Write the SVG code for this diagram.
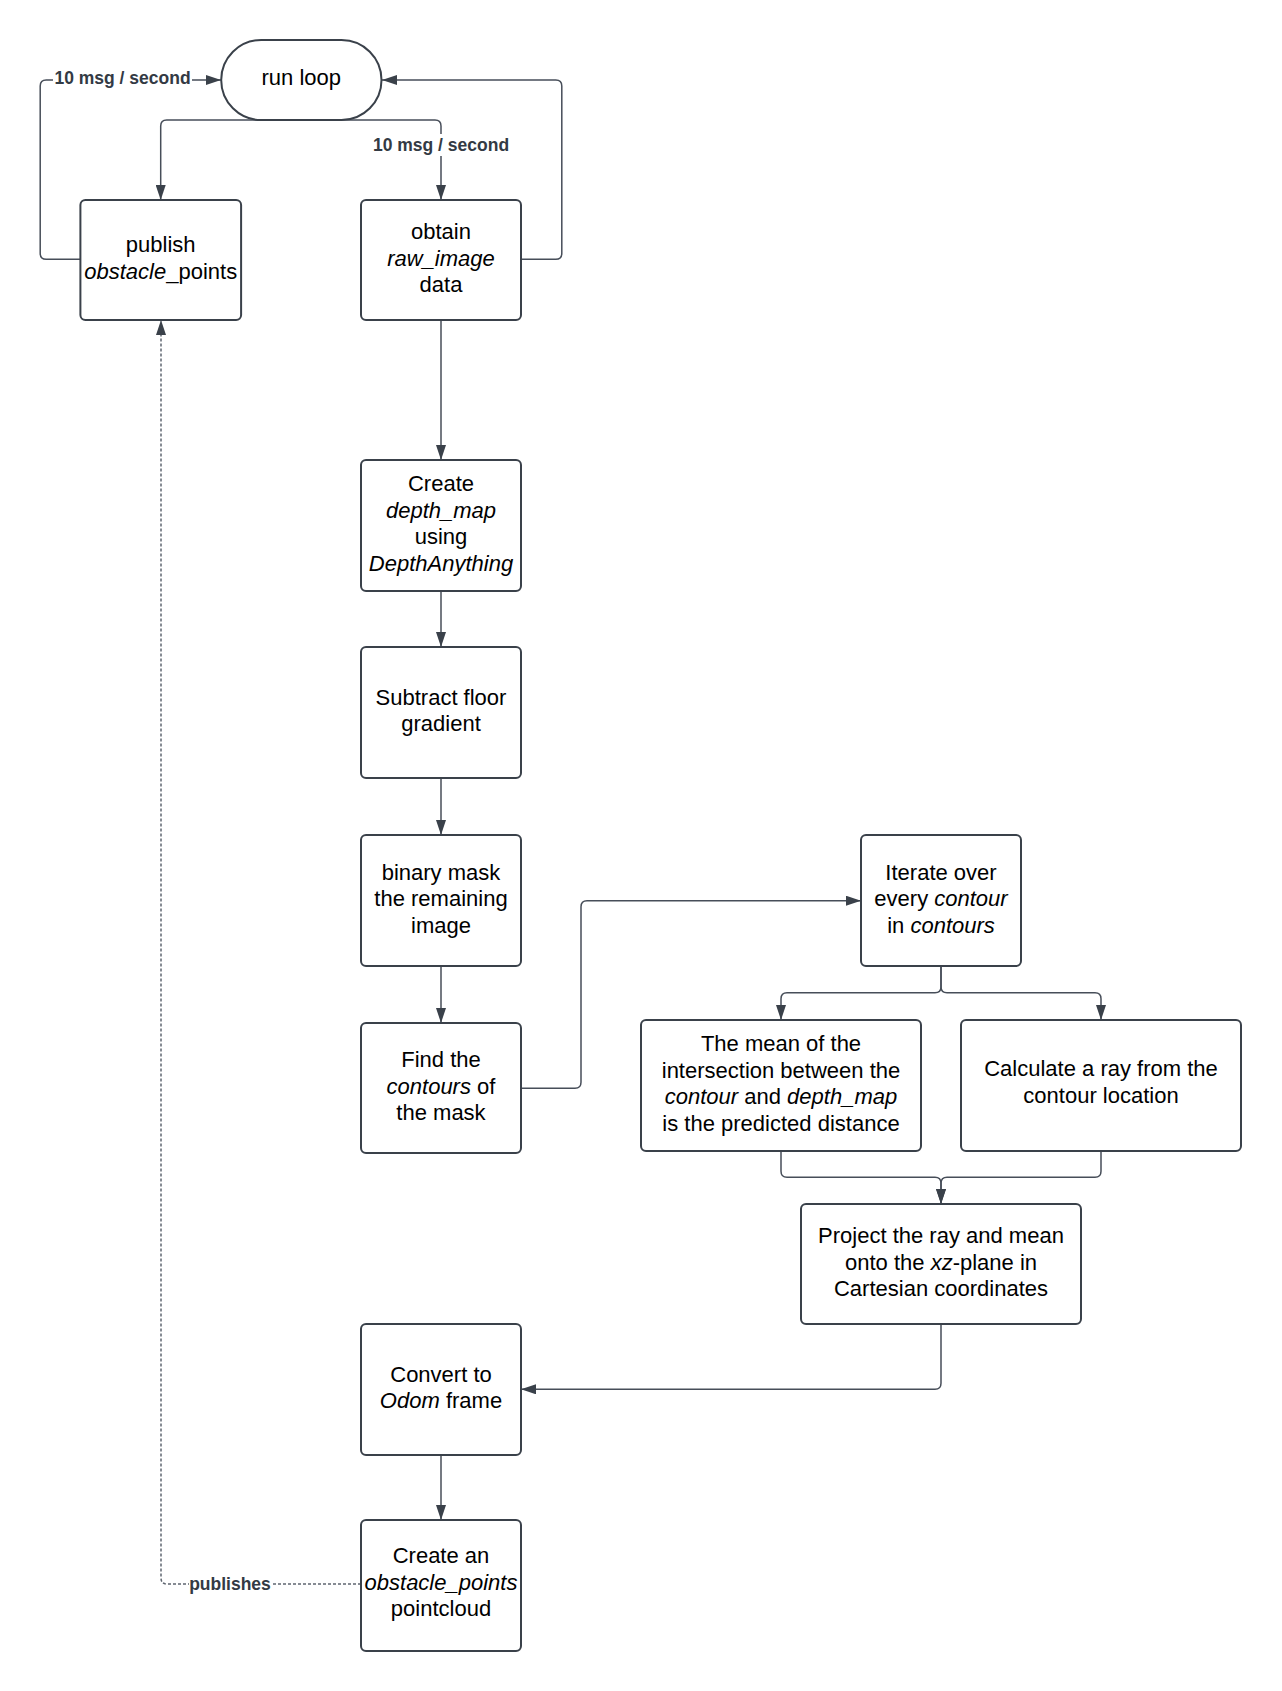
<svg xmlns="http://www.w3.org/2000/svg" width="1282" height="1691" viewBox="0 0 1282 1691">
<style>
.box{fill:#fff;stroke:#3a414a;stroke-width:2}
.t{font-family:"Liberation Sans",Arial,sans-serif;font-size:22px;fill:#000;text-anchor:middle}
.i{font-style:italic}
.c{fill:none;stroke:#474e59;stroke-width:1.5}
.d{fill:none;stroke:#5f6670;stroke-width:1.5;stroke-dasharray:3 2}
.lbl{font-family:"Liberation Sans",Arial,sans-serif;font-size:17.5px;font-weight:bold;fill:#333a44;text-anchor:middle}
</style>
<defs>
<marker id="ah" markerUnits="userSpaceOnUse" markerWidth="15" markerHeight="10" refX="15" refY="5" orient="auto">
<path d="M0,0 L15,5 L0,10 z" fill="#3a414a"/>
</marker>
</defs>
<rect width="1282" height="1691" fill="#fff"/>
<g id="connectors">
<path class="c" d="M301,120 H166.7 Q160.7,120 160.7,126 V200" marker-end="url(#ah)"/>
<path class="c" d="M301,120 H435 Q441,120 441,126 V200" marker-end="url(#ah)"/>
<path class="c" d="M80.4,259.3 H46.2 Q40.2,259.3 40.2,253.3 V86 Q40.2,80 46.2,80 H221" marker-end="url(#ah)"/>
<path class="c" d="M521,259.3 H555.8 Q561.8,259.3 561.8,253.3 V86 Q561.8,80 555.8,80 H382" marker-end="url(#ah)"/>
<path class="c" d="M441,320 V460" marker-end="url(#ah)"/>
<path class="c" d="M441,591 V647" marker-end="url(#ah)"/>
<path class="c" d="M441,778 V835" marker-end="url(#ah)"/>
<path class="c" d="M441,966 V1023" marker-end="url(#ah)"/>
<path class="c" d="M521,1088.3 H575 Q581,1088.3 581,1082.3 V906.7 Q581,900.7 587,900.7 H861" marker-end="url(#ah)"/>
<path class="c" d="M941,966 V986.7 Q941,992.7 935,992.7 H787 Q781,992.7 781,998.7 V1020" marker-end="url(#ah)"/>
<path class="c" d="M941,966 V986.7 Q941,992.7 947,992.7 H1095 Q1101,992.7 1101,998.7 V1020" marker-end="url(#ah)"/>
<path class="c" d="M781,1151 V1171.3 Q781,1177.3 787,1177.3 H935 Q941,1177.3 941,1183.3 V1204" marker-end="url(#ah)"/>
<path class="c" d="M1101,1151 V1171.3 Q1101,1177.3 1095,1177.3 H947 Q941,1177.3 941,1183.3 V1204" marker-end="url(#ah)"/>
<path class="c" d="M941,1324 V1383.3 Q941,1389.3 935,1389.3 H521" marker-end="url(#ah)"/>
<path class="c" d="M441,1455 V1520" marker-end="url(#ah)"/>
<path class="d" d="M361,1584 H167 Q161,1584 161,1578 V320" marker-end="url(#ah)"/>
<rect x="53" y="68" width="139" height="22" fill="#fff"/>
<text class="lbl" x="122.5" y="84">10 msg / second</text>
<rect x="371" y="134" width="140" height="22" fill="#fff"/>
<text class="lbl" x="441" y="151">10 msg / second</text>
<rect x="189" y="1573" width="82" height="22" fill="#fff"/>
<text class="lbl" x="230" y="1590">publishes</text>
</g>
<g id="run-loop">
<rect class="box" x="221.2" y="40" width="160.3" height="80" rx="40" ry="40"/>
<text class="t" x="301.3" y="85">run loop</text>
</g>
<g id="publish">
<rect class="box" x="80.4" y="200" width="160.7" height="120" rx="5"/>
<text class="t" x="160.7" y="252.2">publish</text>
<text class="t" x="160.7" y="278.8"><tspan class="i">obstacle</tspan>_points</text>
</g>
<g id="obtain">
<rect class="box" x="361" y="200" width="160" height="120" rx="5"/>
<text class="t" x="441" y="239">obtain</text>
<text class="t i" x="441" y="265.5">raw_image</text>
<text class="t" x="441" y="292">data</text>
</g>
<g id="create-depth">
<rect class="box" x="361" y="460" width="160" height="131" rx="5"/>
<text class="t" x="441" y="491.2">Create</text>
<text class="t i" x="441" y="517.7">depth_map</text>
<text class="t" x="441" y="544.2">using</text>
<text class="t i" x="441" y="570.7">DepthAnything</text>
</g>
<g id="subtract">
<rect class="box" x="361" y="647" width="160" height="131" rx="5"/>
<text class="t" x="441" y="704.8">Subtract floor</text>
<text class="t" x="441" y="731.3">gradient</text>
</g>
<g id="binary-mask">
<rect class="box" x="361" y="835" width="160" height="131" rx="5"/>
<text class="t" x="441" y="879.5">binary mask</text>
<text class="t" x="441" y="906">the remaining</text>
<text class="t" x="441" y="932.5">image</text>
</g>
<g id="find-contours">
<rect class="box" x="361" y="1023" width="160" height="130" rx="5"/>
<text class="t" x="441" y="1067">Find the</text>
<text class="t" x="441" y="1093.5"><tspan class="i">contours</tspan> of</text>
<text class="t" x="441" y="1120">the mask</text>
</g>
<g id="iterate">
<rect class="box" x="861" y="835" width="160" height="131" rx="5"/>
<text class="t" x="941" y="879.5">Iterate over</text>
<text class="t" x="941" y="906">every <tspan class="i">contour</tspan></text>
<text class="t" x="941" y="932.5">in <tspan class="i">contours</tspan></text>
</g>
<g id="mean">
<rect class="box" x="641" y="1020" width="280" height="131" rx="5"/>
<text class="t" x="781" y="1051.3">The mean of the</text>
<text class="t" x="781" y="1077.8">intersection between the</text>
<text class="t" x="781" y="1104.3"><tspan class="i">contour</tspan> and <tspan class="i">depth_map</tspan></text>
<text class="t" x="781" y="1130.8">is the predicted distance</text>
</g>
<g id="calculate-ray">
<rect class="box" x="961" y="1020" width="280" height="131" rx="5"/>
<text class="t" x="1101" y="1076">Calculate a ray from the</text>
<text class="t" x="1101" y="1102.5">contour location</text>
</g>
<g id="project">
<rect class="box" x="801" y="1204" width="280" height="120" rx="5"/>
<text class="t" x="941" y="1243">Project the ray and mean</text>
<text class="t" x="941" y="1269.5">onto the <tspan class="i">xz</tspan>-plane in</text>
<text class="t" x="941" y="1296">Cartesian coordinates</text>
</g>
<g id="convert">
<rect class="box" x="361" y="1324" width="160" height="131" rx="5"/>
<text class="t" x="441" y="1381.8">Convert to</text>
<text class="t" x="441" y="1408.3"><tspan class="i">Odom</tspan> frame</text>
</g>
<g id="create-pointcloud">
<rect class="box" x="361" y="1520" width="160" height="131" rx="5"/>
<text class="t" x="441" y="1563">Create an</text>
<text class="t i" x="441" y="1589.5">obstacle_points</text>
<text class="t" x="441" y="1616">pointcloud</text>
</g>
</svg>
